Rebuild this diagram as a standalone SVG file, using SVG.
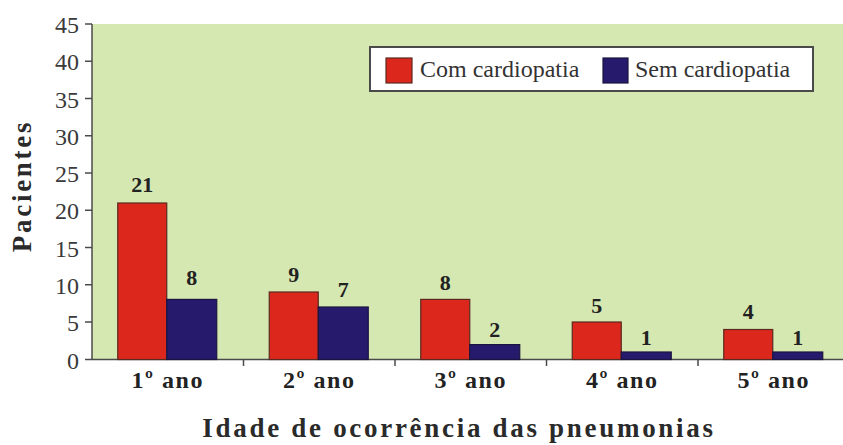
<svg xmlns="http://www.w3.org/2000/svg" width="843" height="445" viewBox="0 0 843 445">
<style>
text{font-family:"Liberation Serif","Times New Roman",serif}
.tick{font-size:24px;fill:#3a3a3a;text-anchor:end}
.tl{stroke:#4a4a4a;stroke-width:1.5}
.red{fill:#dc271d;stroke:#5a2a20;stroke-width:1.2}
.blue{fill:#251a6c;stroke:#1a1440;stroke-width:1.2}
.val{font-size:22px;font-weight:bold;fill:#222;text-anchor:middle}
.cat{font-size:24px;font-weight:bold;fill:#222;text-anchor:middle;letter-spacing:1.5px}
.title{font-size:27px;font-weight:bold;fill:#2a2a2a;letter-spacing:2.7px;text-anchor:middle}
.leg{font-size:24px;fill:#333}
</style>
<rect width="843" height="445" fill="#ffffff"/>
<rect id="plot" x="92" y="24" width="751" height="335" fill="#d6e8b1"/>
<g id="axes">
<line class="tl" x1="92" y1="24" x2="92" y2="359.5"/>
<line class="tl" x1="92" y1="359.5" x2="843" y2="359.5"/>
<g class="tl">
<line x1="85" y1="24" x2="92" y2="24"/>
<line x1="85" y1="61.25" x2="92" y2="61.25"/>
<line x1="85" y1="98.5" x2="92" y2="98.5"/>
<line x1="85" y1="135.75" x2="92" y2="135.75"/>
<line x1="85" y1="173" x2="92" y2="173"/>
<line x1="85" y1="210.25" x2="92" y2="210.25"/>
<line x1="85" y1="247.5" x2="92" y2="247.5"/>
<line x1="85" y1="284.75" x2="92" y2="284.75"/>
<line x1="85" y1="322" x2="92" y2="322"/>
<line x1="85" y1="359.5" x2="92" y2="359.5"/>
<line x1="243.5" y1="359.5" x2="243.5" y2="366"/>
<line x1="395" y1="359.5" x2="395" y2="366"/>
<line x1="546.5" y1="359.5" x2="546.5" y2="366"/>
<line x1="698" y1="359.5" x2="698" y2="366"/>
</g>
<text class="tick" x="79" y="33">45</text>
<text class="tick" x="79" y="70.25">40</text>
<text class="tick" x="79" y="107.5">35</text>
<text class="tick" x="79" y="144.75">30</text>
<text class="tick" x="79" y="182">25</text>
<text class="tick" x="79" y="219.25">20</text>
<text class="tick" x="79" y="256.5">15</text>
<text class="tick" x="79" y="293.75">10</text>
<text class="tick" x="79" y="331">5</text>
<text class="tick" x="79" y="368.5">0</text>
</g>
<g id="cat1">
<rect class="red" x="117.75" y="203" width="49" height="156.5"/>
<rect class="blue" x="166.75" y="299.4" width="50" height="60.1"/>
<text class="val" x="142.25" y="192">21</text>
<text class="val" x="191.75" y="285">8</text>
<text class="cat" x="167.75" y="388">1º ano</text>
</g>
<g id="cat2">
<rect class="red" x="269.25" y="292" width="49" height="67.5"/>
<rect class="blue" x="318.25" y="307" width="50" height="52.5"/>
<text class="val" x="293.75" y="282">9</text>
<text class="val" x="343.25" y="297">7</text>
<text class="cat" x="319.25" y="388">2º ano</text>
</g>
<g id="cat3">
<rect class="red" x="420.75" y="299.4" width="49" height="60.1"/>
<rect class="blue" x="469.75" y="344.6" width="50" height="14.9"/>
<text class="val" x="445.25" y="290">8</text>
<text class="val" x="494.75" y="337">2</text>
<text class="cat" x="470.75" y="388">3º ano</text>
</g>
<g id="cat4">
<rect class="red" x="572.25" y="322" width="49" height="37.5"/>
<rect class="blue" x="621.25" y="352" width="50" height="7.5"/>
<text class="val" x="596.75" y="313">5</text>
<text class="val" x="646.25" y="345">1</text>
<text class="cat" x="622.25" y="388">4º ano</text>
</g>
<g id="cat5">
<rect class="red" x="723.75" y="329.5" width="49" height="30"/>
<rect class="blue" x="772.75" y="352" width="50" height="7.5"/>
<text class="val" x="748.25" y="319">4</text>
<text class="val" x="797.75" y="345">1</text>
<text class="cat" x="773.75" y="388">5º ano</text>
</g>
<g id="legend">
<rect x="370" y="47" width="443" height="44" fill="#ffffff" stroke="#4a4a4a" stroke-width="2"/>
<rect class="red" x="386" y="58" width="26" height="25"/>
<text class="leg" x="420" y="77">Com cardiopatia</text>
<rect class="blue" x="603" y="58" width="25" height="25"/>
<text class="leg" x="635" y="77">Sem cardiopatia</text>
</g>
<g id="titles">
<text class="title" x="459" y="437">Idade de ocorrência das pneumonias</text>
<text class="title" transform="translate(31,186) rotate(-90)" x="0" y="0">Pacientes</text>
</g>
</svg>
